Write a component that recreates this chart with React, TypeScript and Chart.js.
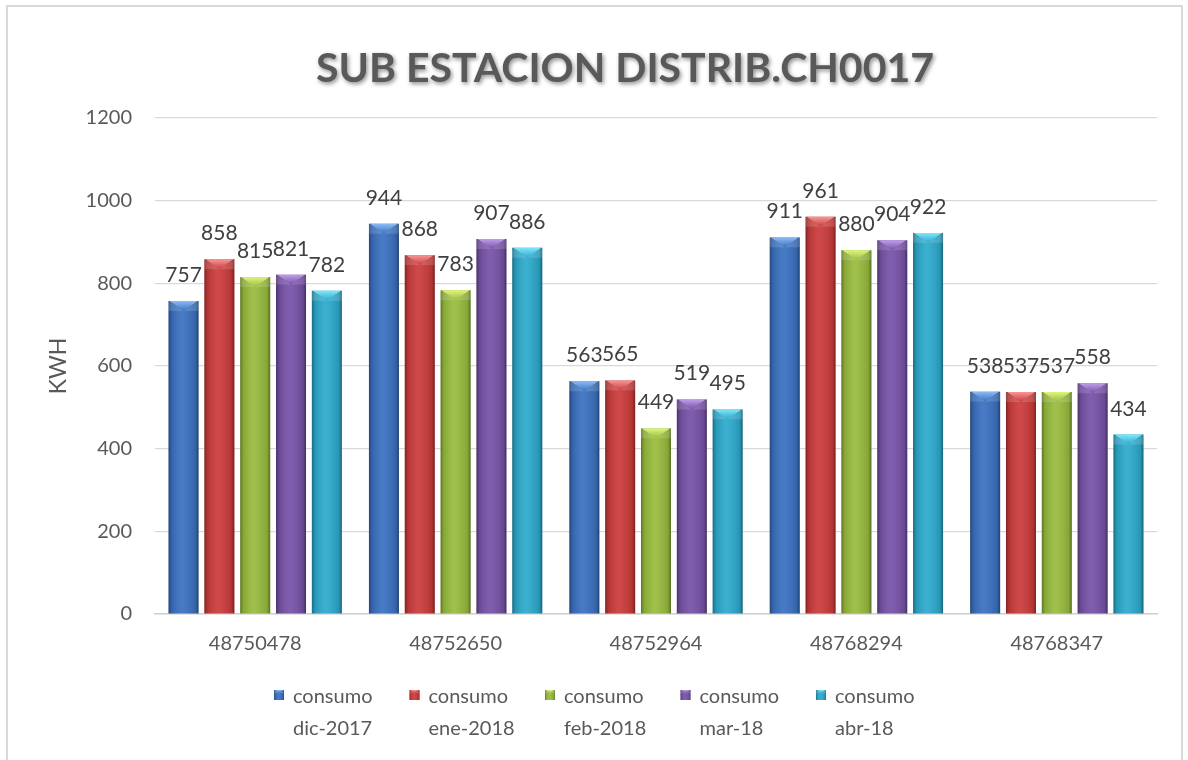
import React, { useEffect, useRef } from 'react';
import { Chart, registerables } from 'chart.js';

Chart.register(...registerables);

const chartTitle = 'SUB ESTACION DISTRIB.CH0017';
const yAxisTitle = 'KWH';
const categories = ['48750478', '48752650', '48752964', '48768294', '48768347'];
const seriesNames = ['consumo dic-2017', 'consumo ene-2018', 'consumo feb-2018', 'consumo mar-18', 'consumo abr-18'];
const dic2017 = [757, 944, 563, 911, 538];
const ene2018 = [858, 868, 565, 961, 537];
const feb2018 = [815, 783, 449, 880, 537];
const mar18 = [821, 907, 519, 904, 558];
const abr18 = [782, 886, 495, 922, 434];
const seriesValues = [dic2017, ene2018, feb2018, mar18, abr18];
const yMin = 0;
const yMax = 1200;
const yStep = 200;

const baseColors = ['#3a71c1', '#cc3b3b', '#98bc3d', '#7752a8', '#2caacd'];
const lightColors = ['#8cbcf4', '#f79696', '#def47e', '#c09ce8', '#80e6f9'];

const FONT = 'Lato';

function drawBevelBar(ctx: CanvasRenderingContext2D, left: number, top: number, right: number, bottom: number, base: string, light: string) {
  const w = right - left;
  const h = bottom - top;
  if (w <= 0 || h <= 0) return;
  ctx.save();
  const g = ctx.createLinearGradient(left, 0, right, 0);
  g.addColorStop(0, 'rgba(0,0,0,0.38)');
  g.addColorStop(0.1, 'rgba(0,0,0,0.12)');
  g.addColorStop(0.45, 'rgba(255,255,255,0.07)');
  g.addColorStop(0.9, 'rgba(0,0,0,0.12)');
  g.addColorStop(1, 'rgba(0,0,0,0.42)');
  ctx.fillStyle = g;
  ctx.fillRect(left, top, w, h);
  const bev = Math.min(w * 0.33, h / 2, 10);
  const cx = (left + right) / 2;
  const tg = ctx.createLinearGradient(0, top, 0, top + bev);
  tg.addColorStop(0, light);
  tg.addColorStop(1, base);
  ctx.fillStyle = tg;
  ctx.beginPath();
  ctx.moveTo(left + 1, top);
  ctx.lineTo(right - 1, top);
  ctx.lineTo(cx, top + bev);
  ctx.closePath();
  ctx.fill();
  ctx.fillStyle = 'rgba(255,255,255,0.14)';
  ctx.beginPath();
  ctx.moveTo(left, top);
  ctx.lineTo(cx, top + bev);
  ctx.lineTo(left, top + bev);
  ctx.closePath();
  ctx.fill();
  ctx.beginPath();
  ctx.moveTo(right, top);
  ctx.lineTo(cx, top + bev);
  ctx.lineTo(right, top + bev);
  ctx.closePath();
  ctx.fill();
  ctx.restore();
}

const decorPlugin = {
  id: 'decor',
  beforeDraw(chart: any) {
    const ctx = chart.ctx as CanvasRenderingContext2D;
    ctx.save();
    ctx.fillStyle = '#ffffff';
    ctx.fillRect(0, 0, chart.width, chart.height);
    ctx.strokeStyle = '#d9d9d9';
    ctx.lineWidth = 2;
    ctx.strokeRect(7, 6, 1175, 770);
    ctx.restore();
  },
  afterDatasetsDraw(chart: any) {
    const ctx = chart.ctx as CanvasRenderingContext2D;
    chart.data.datasets.forEach((ds: any, di: number) => {
      const meta = chart.getDatasetMeta(di);
      meta.data.forEach((bar: any) => {
        const p = bar.getProps(['x', 'y', 'base', 'width'], true);
        drawBevelBar(ctx, p.x - p.width / 2, p.y, p.x + p.width / 2, p.base, baseColors[di], lightColors[di]);
      });
    });
    ctx.save();
    ctx.font = `21px ${FONT}`;
    ctx.fillStyle = '#404040';
    ctx.textAlign = 'center';
    ctx.textBaseline = 'alphabetic';
    chart.data.datasets.forEach((ds: any, di: number) => {
      const meta = chart.getDatasetMeta(di);
      meta.data.forEach((bar: any, i: number) => {
        const p = bar.getProps(['x', 'y'], true);
        ctx.fillText(String(ds.data[i]), p.x, p.y - 19);
      });
    });
    ctx.restore();
  },
  afterDraw(chart: any) {
    const ctx = chart.ctx as CanvasRenderingContext2D;
    const area = chart.chartArea;
    ctx.save();
    ctx.font = `bold 41px ${FONT}`;
    ctx.fillStyle = '#595959';
    ctx.textAlign = 'center';
    ctx.textBaseline = 'alphabetic';
    ctx.shadowColor = 'rgba(0,0,0,0.45)';
    ctx.shadowBlur = 4;
    ctx.shadowOffsetX = 1.5;
    ctx.shadowOffsetY = 2;
    ctx.fillText(chartTitle, 625, 82);
    ctx.restore();
    ctx.save();
    ctx.font = `23px ${FONT}`;
    ctx.fillStyle = '#595959';
    ctx.textAlign = 'center';
    ctx.textBaseline = 'middle';
    ctx.translate(59, (area.top + area.bottom) / 2);
    ctx.rotate(-Math.PI / 2);
    ctx.fillText(yAxisTitle, 0, 0);
    ctx.restore();
    ctx.save();
    const startX = 274;
    const pitch = 135.5;
    const line1 = 697;
    const line2 = 729;
    chart.data.datasets.forEach((ds: any, di: number) => {
      const x = startX + di * pitch;
      const by = 690;
      const bs = 10;
      ctx.fillStyle = baseColors[di];
      ctx.fillRect(x, by, bs, bs);
      drawBevelBar(ctx, x, by, x + bs, by + bs, baseColors[di], lightColors[di]);
      const name: string = ds.label;
      const sp = name.indexOf(' ');
      ctx.font = `20px ${FONT}`;
      ctx.fillStyle = '#595959';
      ctx.textAlign = 'left';
      ctx.textBaseline = 'middle';
      ctx.fillText(name.slice(0, sp), x + 19, line1);
      ctx.fillText(name.slice(sp + 1), x + 19, line2);
    });
    ctx.restore();
  },
};

export default function App() {
  const ref = useRef<HTMLCanvasElement | null>(null);
  useEffect(() => {
    if (!ref.current) return;
    const chart = new Chart(ref.current, {
      type: 'bar',
      data: {
        labels: categories,
        datasets: seriesNames.map((name, i) => ({
          label: name,
          data: seriesValues[i],
          backgroundColor: baseColors[i],
          borderWidth: 0,
          categoryPercentage: 0.894,
          barPercentage: 0.837,
        })),
      },
      options: {
        responsive: false,
        animation: false,
        events: [],
        layout: { padding: { top: 118, right: 31, left: 0, bottom: 0 } },
        plugins: {
          legend: { display: false },
          title: { display: false },
          tooltip: { enabled: false },
        },
        scales: {
          x: {
            grid: { display: false, drawTicks: false },
            border: { display: true, color: '#d0d0d0', width: 1.5 },
            ticks: { font: { family: FONT, size: 20 }, color: '#595959', padding: 18, maxRotation: 0 },
            afterFit: (s: any) => { s.height = 146; },
          },
          y: {
            min: yMin,
            max: yMax,
            grid: { color: '#d9d9d9', lineWidth: 1.2, drawTicks: false },
            border: { display: false },
            ticks: {
              stepSize: yStep,
              font: { family: FONT, size: 20 },
              color: '#595959',
              padding: 23,
              callback: (v: any) => String(v),
            },
            afterFit: (s: any) => { s.width = 155; },
          },
        },
      },
      plugins: [decorPlugin],
    });
    return () => chart.destroy();
  }, []);
  return (
    <div style={{ position: 'fixed', left: 0, top: 0, width: 1188, height: 760, background: '#fff' }}>
      <canvas ref={ref} width={1188} height={760} style={{ display: 'block', width: 1188, height: 760 }} />
    </div>
  );
}
